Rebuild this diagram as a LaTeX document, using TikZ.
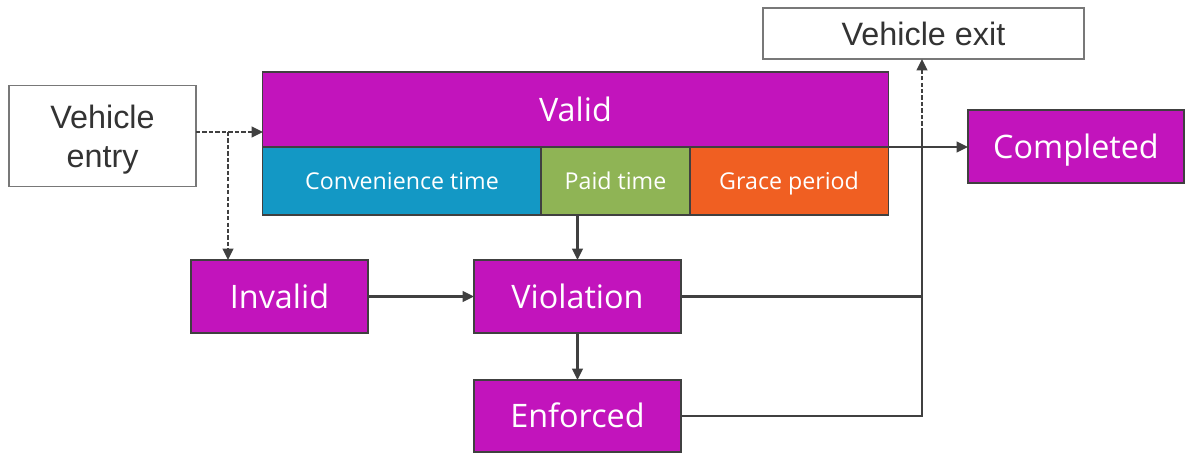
\documentclass[tikz,border=0pt]{standalone}
\usepackage{fontspec}
\setmainfont{Open Sans}
\newfontfamily\labelfont{Liberation Sans}
\usepackage{xcolor}
\usetikzlibrary{arrows.meta, positioning}

\definecolor{statepink}{RGB}{194,20,188}
\definecolor{convblue}{RGB}{19,152,197}
\definecolor{paidgreen}{RGB}{143,180,85}
\definecolor{graceorange}{RGB}{240,95,34}
\definecolor{darkline}{RGB}{64,64,64}
\definecolor{greyline}{RGB}{120,120,120}
\definecolor{labelgrey}{RGB}{51,51,51}

\begin{document}
\begin{tikzpicture}[
    x=0.025cm, y=-0.025cm,
    node distance=0pt,
    state_box/.style={rectangle, draw=darkline, line width=0.8pt, fill=statepink, text=white, font=\fontsize{23}{26}\selectfont, minimum height=1.825cm, text height=16.5pt, text depth=0pt, inner sep=0pt, outer sep=0pt, align=center},
    phase_box/.style={rectangle, draw=darkline, line width=0.8pt, text=white, font=\fontsize{16.5}{19}\selectfont, minimum height=1.7cm, text height=11.9pt, text depth=0pt, inner sep=0pt, outer sep=0pt},
    event_box/.style={rectangle, draw=greyline, line width=1pt, fill=white, text=labelgrey, font=\labelfont\fontsize{23}{28}\selectfont, inner sep=0pt, outer sep=0pt, align=center},
    arrow/.style={-{Triangle[length=8pt,width=7.5pt]}, darkline, line width=1.6pt},
    link/.style={darkline, line width=1.6pt},
    dot_arrow/.style={arrow, dash pattern=on 3pt off 1.6pt}
]
\useasboundingbox (0,0) rectangle (1185,453);

\node (entry) [event_box, minimum width=4.675cm, minimum height=2.525cm, text depth=0pt] at (102.5,136) {Vehicle\\entry};
\node (exit) [event_box, minimum width=8.025cm, minimum height=1.275cm, text height=16.5pt, text depth=0pt] at (923.5,33.5) {Vehicle exit};

\node (valid) [state_box, minimum width=15.625cm, minimum height=1.875cm] at (575.5,109.5) {Valid};
\node (conv) [phase_box, fill=convblue, minimum width=6.95cm, below=of valid.south west, anchor=north west] {Convenience time};
\node (paid) [phase_box, fill=paidgreen, minimum width=3.725cm, right=of conv] {Paid time};
\node (grace) [phase_box, fill=graceorange, minimum width=4.95cm, right=of paid] {Grace period};

\node (done) [state_box, minimum width=5.4cm] at (1076,146.5) {Completed};
\node (invalid) [state_box, minimum width=4.425cm] at (279.5,296.5) {Invalid};
\node (violation) [state_box, minimum width=5.175cm] at (577.5,296.5) {Violation};
\node (enforced) [state_box, minimum width=5.175cm, minimum height=1.8cm] at (577.5,416) {Enforced};

\coordinate (split) at (228,132);
\coordinate (riser) at (922,132);

\draw [dot_arrow] (split -| entry.east) -- (split -| valid.west);
\draw [dot_arrow] (split) -- (split |- invalid.north);
\draw [arrow] (valid.south east) -- (valid.south east -| done.west);
\draw [arrow] (violation.north |- paid.south) -- (violation.north);
\draw [arrow] (invalid) -- (violation);
\draw [arrow] (violation) -- (enforced);
\draw [link] (violation.east) -- (violation.east -| riser);
\draw [link] (enforced.east) -- (enforced.east -| riser) -- (riser);
\draw [dot_arrow] (riser) -- (riser |- exit.south);
\end{tikzpicture}
\end{document}
